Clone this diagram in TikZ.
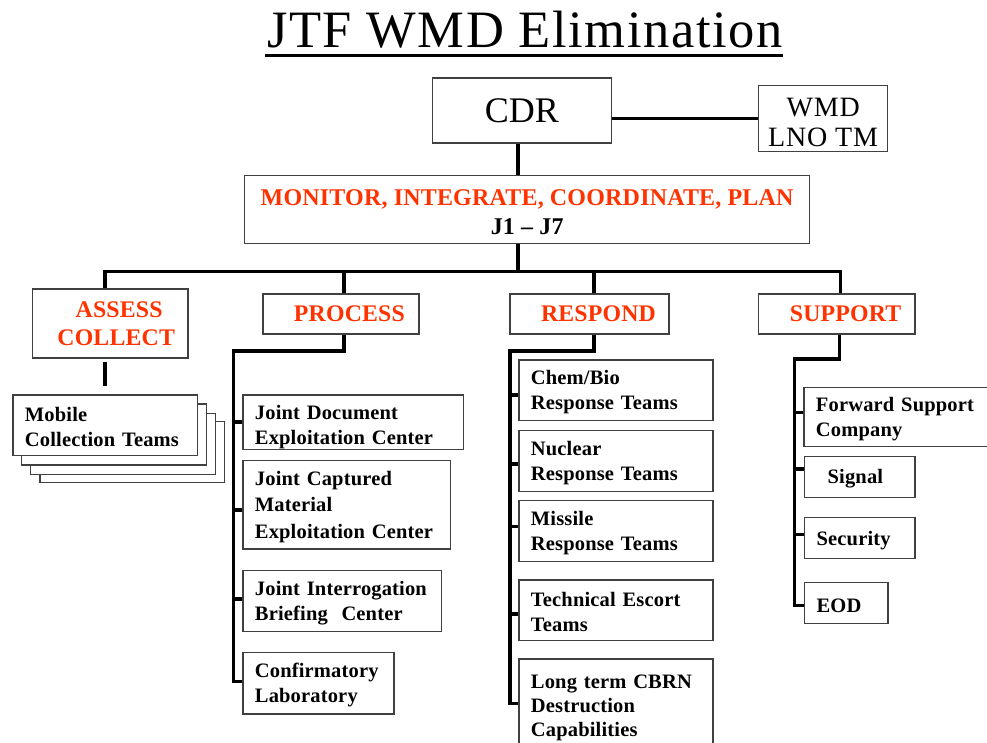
\documentclass[tikz,border=0pt]{standalone}
\usepackage{fontspec}
\setmainfont{Liberation Serif}[LetterSpace=3]
\newfontfamily\plainrm{Liberation Serif}
\newfontfamily\trk{Liberation Serif}[LetterSpace=0.8]
\definecolor{hdr}{RGB}{255,51,0}
\definecolor{bord}{RGB}{64,64,64}
\tikzset{
  conn/.style={line width=3.6pt, black},
  box/.style={draw=bord, line width=1.3pt, fill=white, inner sep=0pt, anchor=north west},
  child/.style={box, align=left, font=\trk\bfseries\fontsize{20.5}{25}\selectfont,
    execute at begin node={\rule{0pt}{18.5pt}}},
  head/.style={box, align=center, text=hdr, font=\trk\bfseries\fontsize{23.8}{27.6}\selectfont},
}
\begin{document}
\begin{tikzpicture}[x=1pt,y=-1pt]
\useasboundingbox (0,0) rectangle (987,742);
\fill[white] (0,0) rectangle (987,742);

% title
\node[anchor=base west, inner sep=0pt, font=\fontsize{52.5}{60}\selectfont] (title) at (267,47.5) {JTF WMD Elimination};
\draw[line width=3pt] ([xshift=-2pt,yshift=-7.5pt]title.base west) -- ([yshift=-7.5pt]title.base east);

% top
\node[box, minimum width=179pt, minimum height=65pt, font=\plainrm\fontsize{36}{40}\selectfont] (cdr) at (431.7,77.3) {CDR};
\node[box, minimum width=129pt, minimum height=66pt, align=center, font=\fontsize{28}{30}\selectfont] (wmd) at (758,85) {\rule{0pt}{26.5pt}WMD\\LNO TM};
\node[box, minimum width=565pt, minimum height=68pt, align=center, font=\trk\bfseries\fontsize{24}{29}\selectfont] (mon) at (244,175) {\rule{0pt}{20pt}\textcolor{hdr}{MONITOR, INTEGRATE, COORDINATE, PLAN}\\J1 – J7};

% headers
\node[head, minimum width=155.6pt, minimum height=69pt] (assess) at (31.7,288.3) {\hspace*{18pt}ASSESS\\\hspace*{12pt}COLLECT};
\node[head, minimum width=156pt, minimum height=40pt] (process) at (262.3,293.3) {\hspace*{17pt}PROCESS};
\node[head, minimum width=159pt, minimum height=40pt] (respond) at (509.3,293.3) {\hspace*{18pt}RESPOND};
\node[head, minimum width=156.6pt, minimum height=40pt] (support) at (757.7,293.3) {\hspace*{18pt}SUPPORT};

% mobile collection stack
\node[box, minimum width=184.7pt, minimum height=61pt] (mob4) at (39.3,420.7) {};
\node[box, minimum width=184.7pt, minimum height=61pt] (mob3) at (30,412.7) {};
\node[box, minimum width=184.7pt, minimum height=61pt] (mob2) at (21,403.3) {};
\node[child, minimum width=184.4pt, minimum height=60.7pt, text width=160.4pt] (mob1) at (12.3,394.3) {Mobile\\Collection~Teams};

% process children
\node[child, minimum width=220.4pt, minimum height=51.4pt, text width=196.4pt] (jdec) at (242.3,394.3) {\rule{0pt}{25pt}Joint~Document\\Exploitation~Center};
\node[child, minimum width=207.7pt, minimum height=88.3pt, text width=183.7pt, font=\trk\bfseries\fontsize{20.5}{26.5}\selectfont] (jcmec) at (242.3,460) {Joint~Captured\\Material\\Exploitation~Center};
\node[child, minimum width=198.4pt, minimum height=61pt, text width=174.4pt] (jibc) at (242.3,570) {Joint~Interrogation\\Briefing~~Center};
\node[child, minimum width=151pt, minimum height=61.6pt, text width=127pt] (cl) at (242.3,651.7) {Confirmatory\\Laboratory};

% respond children
\node[child, minimum width=194pt, minimum height=60.7pt, text width=170pt] (chem) at (518.3,359.3) {Chem/Bio\\Response~Teams};
\node[child, minimum width=194pt, minimum height=60.7pt, text width=170pt] (nuc) at (518.3,430) {Nuclear\\Response~Teams};
\node[child, minimum width=194pt, minimum height=61pt, text width=170pt] (mis) at (518.3,500) {Missile\\Response~Teams};
\node[child, minimum width=194pt, minimum height=60.7pt, text width=170pt] (tech) at (518.3,579.3) {Technical~Escort\\Teams};
\node[child, minimum width=194pt, minimum height=92pt, text width=170pt, font=\trk\bfseries\fontsize{20.5}{24}\selectfont] (ltc) at (518.3,658.3) {Long~term~CBRN\\Destruction\\Capabilities};

% support children
\node[child, minimum width=190pt, minimum height=59.3pt, text width=166pt] (fsc) at (803.3,386.7) {Forward~Support\\Company};
\node[child, minimum width=110.3pt, minimum height=40.7pt, text width=86.3pt] (sig) at (804,456) {\hspace*{11pt}Signal};
\node[child, minimum width=110.3pt, minimum height=41pt, text width=86.3pt] (sec) at (804,517) {Security};
\node[child, minimum width=83.3pt, minimum height=40.7pt, text width=59.3pt] (eod) at (804,582) {EOD};

% coordinates
\coordinate (tr) at (518,271.5);
\coordinate (bl) at (105,271.5);
\coordinate (br) at (840.5,271.5);
\coordinate (pj) at (344,350.7);
\coordinate (ps) at (233.3,350.7);
\coordinate (rj) at (593.8,350.7);
\coordinate (rs) at (510,350.7);
\coordinate (sj) at (839.5,359);
\coordinate (ss) at (794.3,359);

% top connectors
\draw[conn] (cdr.east |- wmd.west) -- (wmd.west);
\draw[conn] (cdr.south -| tr) -- (mon.north -| tr);
\draw[conn] (mon.south -| tr) -- (tr);
\draw[conn] (assess.north -| bl) -- (bl) -- (br) -- (support.north -| br);
\draw[conn] (process.north -| pj) -- (pj |- bl);
\draw[conn] (respond.north -| rj) -- (rj |- bl);

% assess to mobile
\coordinate (a1) at ([yshift=-3pt]assess.south);
\coordinate (a2) at ([yshift=8pt]mob1.north);
\draw[conn] (a1 -| bl) -- (a2 -| bl);

% process spine
\coordinate (jdecT) at (jdec.west);
\coordinate (jcmecT) at ([yshift=-5pt]jcmec.west);
\coordinate (jibcT) at ([yshift=2pt]jibc.west);
\coordinate (clT) at ([yshift=1.5pt]cl.west);
\draw[conn] (process.south -| pj) -- (pj) -- (ps) -- (ps |- clT) -- (clT);
\draw[conn] (ps |- jdecT) -- (jdecT);
\draw[conn] (ps |- jcmecT) -- (jcmecT);
\draw[conn] (ps |- jibcT) -- (jibcT);

% respond spine
\coordinate (chemT) at ([yshift=-4.6pt]chem.west);
\coordinate (nucT) at ([yshift=-3pt]nuc.west);
\coordinate (misT) at ([yshift=4.5pt]mis.west);
\coordinate (techT) at ([yshift=-3.6pt]tech.west);
\coordinate (ltcT) at ([yshift=1.6pt]ltc.west);
\draw[conn] (respond.south -| rj) -- (rj) -- (rs) -- (rs |- ltcT) -- (ltcT);
\draw[conn] (rs |- chemT) -- (chemT);
\draw[conn] (rs |- nucT) -- (nucT);
\draw[conn] (rs |- misT) -- (misT);
\draw[conn] (rs |- techT) -- (techT);

% support spine
\coordinate (fscT) at ([yshift=4.6pt]fsc.west);
\coordinate (sigT) at ([yshift=8pt]sig.west);
\coordinate (secT) at ([yshift=3.5pt]sec.west);
\coordinate (eodT) at ([yshift=-2.6pt]eod.west);
\draw[conn] (support.south -| sj) -- (sj) -- (ss) -- (ss |- eodT) -- (eodT);
\draw[conn] (ss |- fscT) -- (fscT);
\draw[conn] (ss |- sigT) -- (sigT);
\draw[conn] (ss |- secT) -- (secT);
\end{tikzpicture}
\end{document}
